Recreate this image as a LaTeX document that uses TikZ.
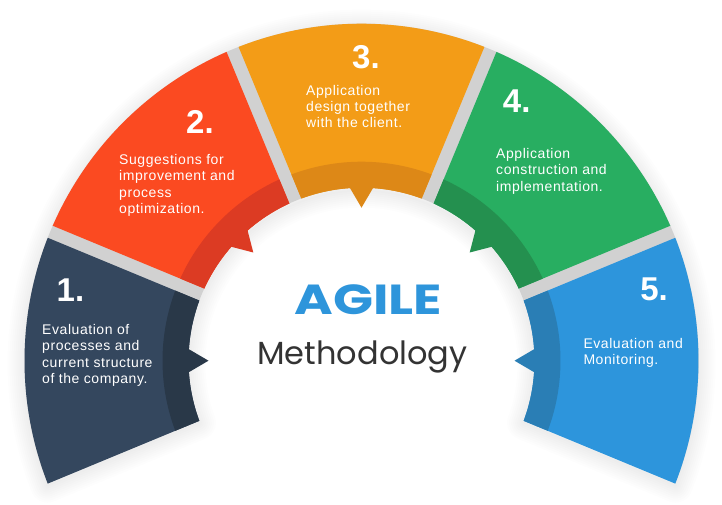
\documentclass[tikz,border=0pt]{standalone}
\usepackage{fontspec}
\setmainfont{Liberation Sans}
\newfontfamily\bodyfont[LetterSpace=4]{Liberation Sans}
\newfontfamily\headfont{Poppins}

\definecolor{c1}{RGB}{52,71,94}
\definecolor{c1d}{RGB}{41,56,72}
\definecolor{c2}{RGB}{251,74,33}
\definecolor{c2d}{RGB}{220,59,35}
\definecolor{c3}{RGB}{243,156,23}
\definecolor{c3d}{RGB}{221,136,23}
\definecolor{c4}{RGB}{40,174,97}
\definecolor{c4d}{RGB}{36,144,79}
\definecolor{c5}{RGB}{45,149,220}
\definecolor{c5d}{RGB}{42,126,181}
\definecolor{gapgray}{RGB}{209,209,209}
\definecolor{agileblue}{RGB}{46,149,219}
\definecolor{methgray}{RGB}{51,51,51}

% ring geometry (pt): outer, inner, band and pointer-tip radii, half gap
\def\Ro{337}
\def\Ri{173}
\def\Rb{199}
\def\Rt{153}
\def\g{6.5}

\tikzset{
  numlabel/.style={text=white, inner sep=0pt, anchor=base,
    font=\fontsize{33}{33}\selectfont\bfseries},
  desclabel/.style={text=white, inner sep=0pt, anchor=north west, align=left,
    font=\bodyfont\fontsize{14}{16.3}\selectfont},
}

\begin{document}
\begin{tikzpicture}[x=1pt,y=1pt]
\fill[white] (0,0) rectangle (722,505);
\useasboundingbox (0,0) rectangle (722,505);

\begin{scope}[shift={(361.5,144.3)}]
  \pgfmathsetmacro\ao{asin(\g/\Ro)}
  \pgfmathsetmacro\ai{asin(\g/\Ri)}
  \pgfmathsetmacro\ab{asin(\g/\Rb)}
  \pgfmathsetmacro\bo{asin((\g+1)/\Ro)}
  \pgfmathsetmacro\bi{asin((\g+1)/\Ri)}
  \pgfmathsetmacro\bsa{-22.5+\bo}
  \pgfmathsetmacro\bea{202.5-\bo}
  \pgfmathsetmacro\bsi{-22.5+\bi}
  \pgfmathsetmacro\bei{202.5-\bi}

  % soft drop shadow around the whole ring
  \foreach \w in {34,30,...,2}{
    \draw[black, opacity=0.008, line width=\w pt, line join=round, yshift=-3pt]
      (\bsa:\Ro) arc[start angle=\bsa, end angle=\bea, radius=\Ro]
      -- (\bei:\Ri) arc[start angle=\bei, end angle=\bsi, radius=\Ri] -- cycle;
  }

  % grey ring seen through the gaps
  \fill[gapgray]
    (\bsa:\Ro) arc[start angle=\bsa, end angle=\bea, radius=\Ro]
    -- (\bei:\Ri) arc[start angle=\bei, end angle=\bsi, radius=\Ri] -- cycle;

  % five segments, each with a darker inner band and a pointer
  \foreach \c/\main/\band in {180/c1/c1d, 135/c2/c2d, 90/c3/c3d, 45/c4/c4d, 0/c5/c5d}{
    \pgfmathsetmacro\sa{\c-22.5+\ao}
    \pgfmathsetmacro\ea{\c+22.5-\ao}
    \pgfmathsetmacro\si{\c-22.5+\ai}
    \pgfmathsetmacro\ei{\c+22.5-\ai}
    \pgfmathsetmacro\sb{\c-22.5+\ab}
    \pgfmathsetmacro\eb{\c+22.5-\ab}
    \pgfmathsetmacro\tw{deg(12/\Ri)}
    \pgfmathsetmacro\tl{\c-\tw}
    \pgfmathsetmacro\tr{\c+\tw}
    \fill[\main] (\sa:\Ro) arc[start angle=\sa, end angle=\ea, radius=\Ro]
      -- (\ei:\Ri) arc[start angle=\ei, end angle=\si, radius=\Ri] -- cycle;
    \fill[\band] (\sb:\Rb) arc[start angle=\sb, end angle=\eb, radius=\Rb]
      -- (\ei:\Ri) arc[start angle=\ei, end angle=\si, radius=\Ri] -- cycle;
    \fill[\band] (\tl:{\Ri+1}) -- (\c:\Rt) -- (\tr:{\Ri+1}) -- cycle;
  }
\end{scope}

% step numbers
\node[numlabel] (n1) at (70.5,203.3) {1.};
\node[numlabel] (n2) at (200,371.7) {2.};
\node[numlabel] (n3) at (366,436.7) {3.};
\node[numlabel] (n4) at (516.7,392.3) {4.};
\node[numlabel] (n5) at (654,204) {5.};

% step descriptions
\node[desclabel] (t1) at (42,180.7) {Evaluation of\\processes and\\current structure\\of the company.};
\node[desclabel] (t2) at (119,350.7) {Suggestions for\\improvement and\\process\\optimization.};
\node[desclabel] (t3) at (306,420) {Application\\design together\\with the client.};
\node[desclabel] (t4) at (496,356.7) {Application\\construction and\\implementation.};
\node[desclabel] (t5) at (583.3,166.7) {Evaluation and\\Monitoring.};

% centre title
\node[anchor=base, inner sep=0pt, text=agileblue, font=\headfont\bfseries\fontsize{42}{42}\selectfont] (agile) at (368.3,190.7) {\scalebox{1.25}[1]{AGILE}};
\node[anchor=base, inner sep=0pt, text=methgray, font=\headfont\fontsize{32}{32}\selectfont] (meth) at (362.5,140.7) {Methodology};
\end{tikzpicture}
\end{document}
